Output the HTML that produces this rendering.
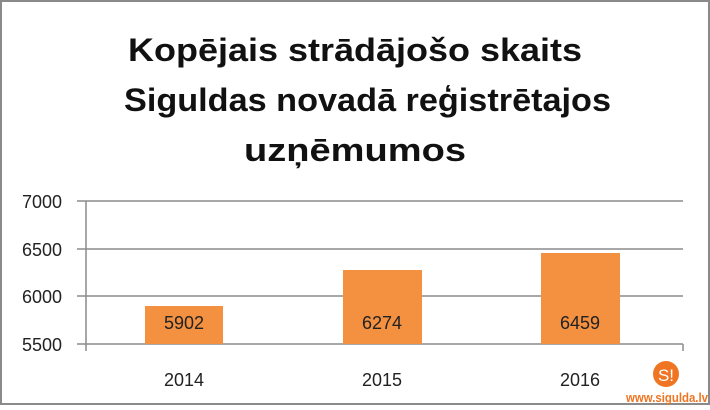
<!DOCTYPE html>
<html><head><meta charset="utf-8"><style>
body{margin:0;width:710px;height:405px;background:#fff;overflow:hidden}
</style></head><body>
<svg width="710" height="405" xmlns="http://www.w3.org/2000/svg" font-family="Liberation Sans, sans-serif">
<rect x="1" y="1" width="708" height="403" fill="#fff" stroke="#8a8a8a" stroke-width="2"/>
<g font-weight="bold" font-size="32" fill="#111">
<text x="128" y="61" textLength="454" lengthAdjust="spacingAndGlyphs">Kopējais strādājošo skaits</text>
<text x="124" y="111" textLength="487" lengthAdjust="spacingAndGlyphs">Siguldas novadā reģistrētajos</text>
<text x="244" y="161" textLength="222" lengthAdjust="spacingAndGlyphs">uzņēmumos</text>
</g>
<g stroke="#8c8c8c" stroke-width="1.5">
<line x1="77" y1="201" x2="683" y2="201"/>
<line x1="77" y1="249" x2="683" y2="249"/>
<line x1="77" y1="296" x2="683" y2="296"/>
<line x1="77" y1="344" x2="683" y2="344"/>
<line x1="86" y1="201" x2="86" y2="351"/>
<line x1="683" y1="344" x2="683" y2="351"/>
</g>
<g font-size="18" fill="#222" text-anchor="end">
<text x="62" y="208">7000</text>
<text x="62" y="256">6500</text>
<text x="62" y="303">6000</text>
<text x="62" y="351">5500</text>
</g>
<g fill="#f39140">
<rect x="145" y="306" width="78" height="38"/>
<rect x="343" y="270" width="79" height="74"/>
<rect x="541" y="253" width="79" height="91"/>
</g>
<g font-size="18" fill="#222" text-anchor="middle">
<text x="184" y="329">5902</text>
<text x="382" y="329">6274</text>
<text x="580" y="329">6459</text>
<text x="184" y="386">2014</text>
<text x="382" y="386">2015</text>
<text x="580" y="386">2016</text>
</g>
<circle cx="666" cy="374" r="13" fill="#ef7522"/>
<text x="666" y="381" font-size="17" fill="#fff" text-anchor="middle">S!</text>
<text x="626" y="402" font-size="13" font-weight="bold" fill="#ef7522" textLength="82" lengthAdjust="spacingAndGlyphs">www.sigulda.lv</text>
</svg>
</body></html>
